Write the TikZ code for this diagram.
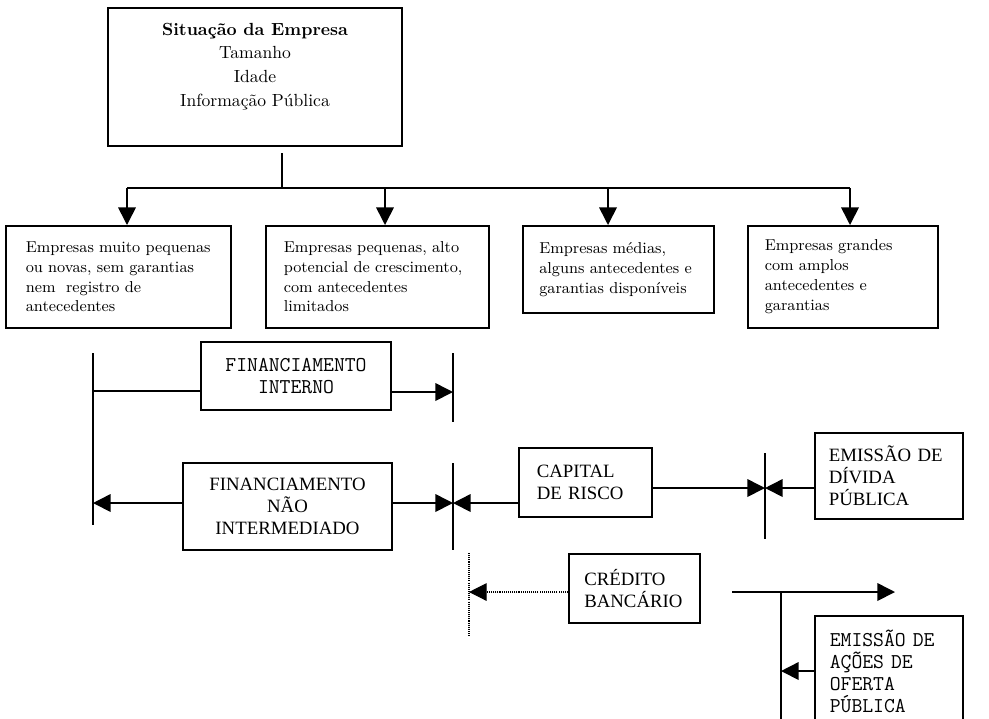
\documentclass[tikz,border=0pt]{standalone}
\usepackage{fontspec}
\newfontfamily\timesfont{Liberation Serif}
\usetikzlibrary{arrows.meta,positioning}

\begin{document}
\begin{tikzpicture}[x=0.02cm,y=-0.02cm,
	  caixa/.style={draw,line width=0.9pt,rectangle,inner ysep=2pt},
	  empresa/.style={caixa,align=left,anchor=north west,font=\fontsize{9}{11.3}\selectfont},
	  fonte/.style={caixa,font=\timesfont\fontsize{10.7}{12.5}\selectfont},
	  fontemono/.style={caixa,font=\ttfamily\fontsize{12}{12.4}\selectfont},
	  seta/.style={-{Triangle[length=10pt,width=10pt]},line width=0.9pt},
	  traco/.style={line width=0.9pt}]
	  \useasboundingbox (0,0) rectangle (989,718);
	  \clip (0,0) rectangle (989,718);
	  \node[caixa,anchor=north,align=center,minimum width=5.88cm,inner ysep=0.3cm,text depth=0.48cm,
	    font=\fontsize{10}{13.6}\selectfont] (sit) at (255,7)
	    {\textbf{Situação da Empresa}\\Tamanho\\Idade\\Informação Pública};
	  \node[empresa,inner xsep=0.4cm,text width=3.7cm,minimum height=2.04cm] (e1) at (5,225)
	    {Empresas muito pequenas\\ou novas, sem garantias\\nem\ \ registro de\\antecedentes};
	  \node[empresa,inner xsep=0.36cm,text width=3.74cm,minimum height=2.04cm] (e2) at (265,225)
	    {Empresas pequenas, alto\\potencial de crescimento,\\com antecedentes\\limitados};
	  \node[empresa,inner xsep=0.33cm,text width=3.16cm,minimum height=1.74cm] (e3) at (522,225)
	    {Empresas médias,\\alguns antecedentes e\\garantias disponíveis};
	  \node[empresa,inner xsep=0.34cm,text width=3.12cm,minimum height=2.04cm] (e4) at (747,225)
	    {Empresas grandes\\com amplos\\antecedentes e\\garantias};
	  \coordinate (topo) at (282,153);
	  \coordinate (ramo) at (282,188);
	  \coordinate (a1) at (127,188);
	  \coordinate (a2) at (385,188);
	  \coordinate (a3) at (608,188);
	  \coordinate (a4) at (850,188);
	  \draw[traco] (topo) -- (ramo);
	  \draw[traco] (a1) -- (a4);
	  \draw[seta] (a1) -- (a1 |- e1.north);
	  \draw[seta] (a2) -- (a2 |- e2.north);
	  \draw[seta] (a3) -- (a3 |- e3.north);
	  \draw[seta] (a4) -- (a4 |- e4.north);
	  \node[fontemono,align=center,minimum width=3.8cm,minimum height=1.36cm] (fi) at (296,376)
	    {FINANCIAMENTO\\INTERNO};
	  \node[fonte,align=center,minimum width=4.18cm,minimum height=1.74cm] (fni) at (287.5,506.5)
	    {FINANCIAMENTO\\NÃO\\INTERMEDIADO};
	  \node[fonte,align=left,anchor=north west,inner xsep=0.36cm,text width=1.94cm,minimum height=1.38cm] (cr) at (518,447)
	    {CAPITAL\\DE RISCO};
	  \node[fonte,align=left,anchor=north west,inner xsep=0.28cm,text width=2.4cm,minimum height=1.72cm] (edp) at (814,432)
	    {EMISSÃO DE\\DÍVIDA\\PÚBLICA};
	  \node[fonte,align=left,anchor=north west,inner xsep=0.31cm,text width=2.0cm,minimum height=1.38cm] (cb) at (568,553)
	    {CRÉDITO\\BANCÁRIO};
	  \node[fontemono,align=left,anchor=north west,inner xsep=0.3cm,text width=2.36cm,minimum height=2.22cm] (eaop) at (814,615)
	    {EMISSÃO DE\\AÇÕES DE\\OFERTA\\PÚBLICA};
	  \coordinate (esqtopo) at (93,353);
	  \coordinate (esqbase) at (93,525);
	  \coordinate (esq1) at (93,391);
	  \coordinate (esq2) at (93,503);
	  \coordinate (b1topo) at (453,353);
	  \coordinate (b1base) at (453,422);
	  \coordinate (b1m) at (453,392);
	  \coordinate (b2topo) at (453,463);
	  \coordinate (b2base) at (453,550);
	  \coordinate (b2m) at (453,503);
	  \coordinate (b3topo) at (765,453);
	  \coordinate (b3base) at (765,539);
	  \coordinate (b3m) at (765,488);
	  \coordinate (pttopo) at (469,553);
	  \coordinate (ptbase) at (469,637);
	  \coordinate (ptm) at (469,592);
	  \coordinate (cbsai) at (732,592);
	  \coordinate (cbfim) at (895,592);
	  \coordinate (b5topo) at (781,592);
	  \coordinate (b5base) at (781,730);
	  \coordinate (b5m) at (781,671);
	  \draw[traco] (esqtopo) -- (esqbase);
	  \draw[traco] (b1topo) -- (b1base);
	  \draw[traco] (b2topo) -- (b2base);
	  \draw[traco] (b3topo) -- (b3base);
	  \draw[traco] (b5topo) -- (b5base);
	  \draw[line width=0.6pt,dash pattern=on 0.6pt off 0.6pt] (pttopo) -- (ptbase);
	  \draw[traco] (esq1) -- (esq1 -| fi.west);
	  \draw[seta] (b1m -| fi.east) -- (b1m);
	  \draw[seta] (esq2 -| fni.west) -- (esq2);
	  \draw[seta] (b2m -| fni.east) -- (b2m);
	  \draw[seta] (b2m -| cr.west) -- (b2m);
	  \draw[seta] (b3m -| cr.east) -- (b3m);
	  \draw[seta] (b3m -| edp.west) -- (b3m);
	  \draw[seta,line width=0.6pt,dash pattern=on 0.6pt off 0.6pt] (ptm -| cb.west) -- (ptm);
	  \draw[seta] (cbsai) -- (cbfim);
	  \draw[seta] (b5m -| eaop.west) -- (b5m);
	\end{tikzpicture}
\end{document}
